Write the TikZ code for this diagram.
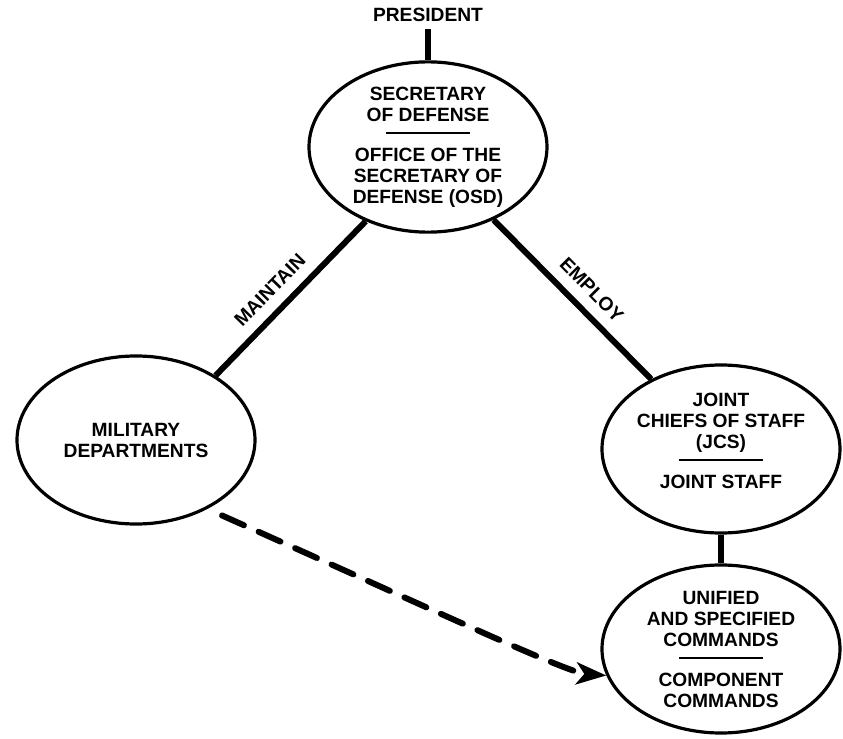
\documentclass[tikz,border=0pt]{standalone}
\usepackage{fontspec}
\setmainfont{Liberation Sans}
\usetikzlibrary{arrows.meta,shapes.geometric}

\tikzset{
  unit/.style={ellipse,draw,line width=1.6pt,minimum width=119pt,minimum height=84pt,inner sep=0pt,align=center},
  chain/.style={line width=3pt},
  lbl/.style={sloped,above,inner sep=5.5pt},
}
\newcommand{\sepline}{\rule{42pt}{1.2pt}}

\begin{document}
\begin{tikzpicture}[x=0.5pt,y=-0.5pt,>={Stealth[length=15pt,width=11pt,inset=4pt]},font=\bfseries\fontsize{9.6}{10.5}\selectfont]
\useasboundingbox (0,0) rectangle (843,739);

\node[unit] (osd) at (428,147) {SECRETARY\\OF DEFENSE\\[-4pt]\sepline\\[3pt]OFFICE OF THE\\SECRETARY OF\\DEFENSE (OSD)};
\node (pres) [above of=osd,node distance=66pt] {PRESIDENT};
\node[unit] (mil) at (136,440) {MILITARY\\DEPARTMENTS};
\node[unit] (jcs) at (721,449) {JOINT\\CHIEFS OF STAFF\\(JCS)\\[-4pt]\sepline\\[3pt]JOINT STAFF\\[-2pt]\mbox{}};
\node[unit] (uni) [below of=jcs,node distance=100pt] {UNIFIED\\AND SPECIFIED\\COMMANDS\\[-4pt]\sepline\\[3pt]COMPONENT\\COMMANDS};

\path[chain] (pres) edge (osd)
  (osd.230) edge node[lbl,pos=0.54] {MAINTAIN} (mil.39)
  (osd.312) edge node[lbl,pos=0.53] {EMPLOY} (jcs.135)
  (jcs) edge (uni);

% dashed support line
\draw[chain,->,dash pattern=on 12pt off 8pt,line cap=round,shorten <=8pt]
  (mil.-44) .. controls +(-24:120pt) and +(176:20pt) .. (uni.193);
\end{tikzpicture}
\end{document}
